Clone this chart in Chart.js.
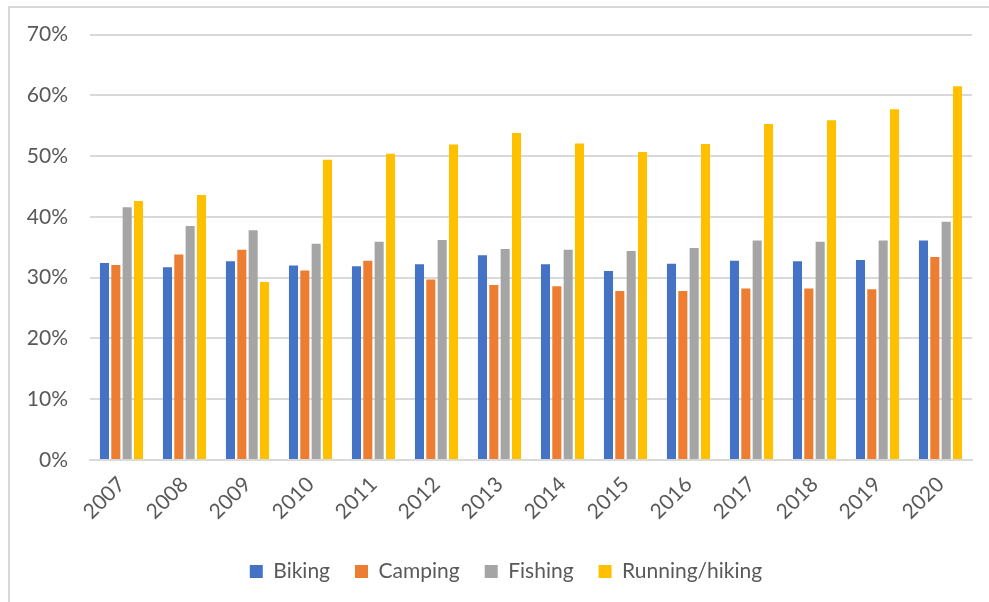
<!DOCTYPE html>
<html>
<head>
<meta charset="utf-8">
<script src="https://cdn.jsdelivr.net/npm/chart.js@4"></script>
<style>
	body { margin:0; background:#fff; }
	#wrap { position:relative; width:989px; height:602px; }
	#frame { position:absolute; left:8px; top:6px; right:0; bottom:0; border-top:2px solid #d9d9d9; border-left:2px solid #d9d9d9; }
</style>
</head>
<body>
<div id="wrap">
	<div id="frame"></div>
	<canvas id="c" width="989" height="602"></canvas>
</div>
<script>
const years = ['2007','2008','2009','2010','2011','2012','2013','2014','2015','2016','2017','2018','2019','2020']
const biking = [32.4, 31.7, 32.7, 32.0, 31.9, 32.2, 33.7, 32.2, 31.1, 32.3, 32.8, 32.7, 32.9, 36.1]
const camping = [32.1, 33.8, 34.6, 31.2, 32.8, 29.7, 28.8, 28.6, 27.8, 27.8, 28.2, 28.2, 28.1, 33.4]
const fishing = [41.6, 38.5, 37.8, 35.6, 35.9, 36.2, 34.7, 34.6, 34.4, 34.9, 36.1, 35.9, 36.1, 39.2]
const running = [42.6, 43.6, 29.3, 49.4, 50.4, 51.9, 53.8, 52.1, 50.7, 52.0, 55.3, 55.9, 57.7, 61.5]
const yTicks = [0, 10, 20, 30, 40, 50, 60, 70]

const txt = '#595959'
const fnt = 'Lato, "Open Sans", sans-serif'

const ds = (label, data, color) => ({
	label: label,
	data: data,
	backgroundColor: color,
	borderWidth: 0,
	barPercentage: 0.8,
	categoryPercentage: 0.72,
})

// nudge the legend a bit right, it sits centred on the whole frame in the original
const legendShift = {
	id: 'legendShift',
	afterLayout: c => { c.legend.left += 20; c.legend.right += 20 }
}

new Chart(document.getElementById('c'), {
	type: 'bar',
	data: {
		labels: years,
		datasets: [
			ds('Biking', biking, '#4472C4'),
			ds('Camping', camping, '#ED7D31'),
			ds('Fishing', fishing, '#A5A5A5'),
			ds('Running/hiking', running, '#FFC000'),
		]
	},
	options: {
		responsive: false,
		animation: false,
		layout: { padding: { top: 31, right: 17, left: 0, bottom: 10 } },
		plugins: {
			legend: {
				position: 'bottom',
				labels: {
					boxWidth: 13,
					boxHeight: 13,
					padding: 25,
					color: txt,
					font: { family: fnt, size: 21 },
				}
			},
			tooltip: { enabled: false },
		},
		scales: {
			x: {
				grid: { display: false },
				border: { color: '#d9d9d9', width: 2 },
				ticks: {
					color: txt,
					font: { family: fnt, size: 21 },
					minRotation: 45,
					maxRotation: 45,
					padding: 4,
				},
				afterFit: s => { s.height = 76 },
			},
			y: {
				min: 0,
				max: 70,
				grid: { color: '#d9d9d9', lineWidth: 2, drawTicks: false },
				border: { display: false },
				afterBuildTicks: s => { s.ticks = yTicks.map(v => ({ value: v })) },
				ticks: {
					color: txt,
					font: { family: fnt, size: 21 },
					padding: 22,
					callback: v => v + '%',
				},
				afterFit: s => { s.width = 90 },
			}
		}
	},
	plugins: [legendShift]
})
</script>
</body>
</html>
